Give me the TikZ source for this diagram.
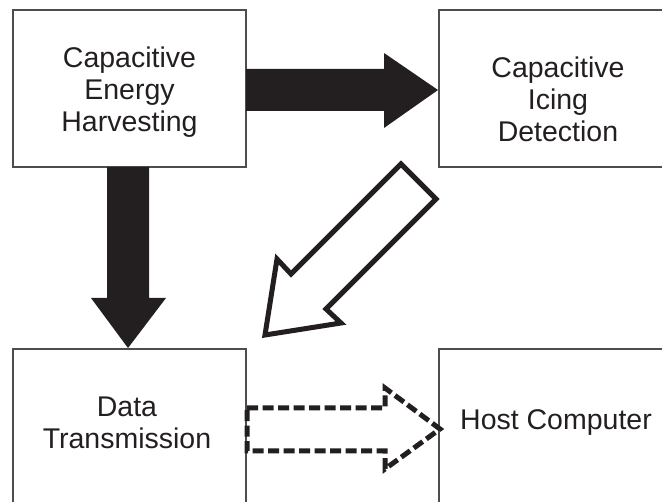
\documentclass[tikz,border=0pt]{standalone}
\usepackage{fontspec}
\setmainfont{Liberation Sans}
\usepackage{xcolor}
\usepackage{tikz}
\usetikzlibrary{positioning}
\definecolor{tinta}{HTML}{231F20}
\definecolor{borde}{HTML}{4D4D4D}
\tikzset{
  caja/.style={draw=borde, line width=1.1pt, rectangle, inner sep=0pt},
  texto/.style={align=center, inner sep=0pt, text=tinta,
    font=\fontsize{28.5}{32}\selectfont},
  flechallena/.style={fill=tinta, draw=none},
  flechahueca/.style={draw=tinta, line width=5pt, line join=miter, fill=white},
  flechapunteada/.style={draw=tinta, line width=5pt, line join=miter,
    dash pattern=on 11pt off 4.5pt}
}
\begin{document}
\begin{tikzpicture}[x=1pt, y=-1pt]
        % Marco de la figura
        \useasboundingbox (0,0) rectangle (662,502);
        \clip (0,0) rectangle (662,502);
        % Cajas
        \node[caja, minimum width=233pt, minimum height=157pt] (harvest) at (129.5,88.5) {};
        \node[caja, minimum width=238pt, minimum height=157pt] (icing) at (558,88.5) {};
        \node[caja, minimum width=233pt, minimum height=157pt] (trans) at (129.5,427.5) {};
        \node[caja, minimum width=238pt, minimum height=157pt] (host) at (558,427.5) {};
        % Textos
        \node[texto] (harvestlbl) at (129.5,92) {Capacitive\\Energy\\Harvesting};
        \node[texto] (icinglbl) at (558,99) {Capacitive\\Icing\\Detection};
        \node[texto] (translbl) at (127,423) {Data\\Transmission};
        \node[texto] (hostlbl) at (556,423) {Host Computer};
        % Flecha horizontal (rellena)
        \fill[flechallena] (246,69) -- (384,69) -- (384,53) -- (438,90)
          -- (384,128) -- (384,111) -- (246,111) -- cycle;
        % Flecha vertical (rellena)
        \fill[flechallena] (107,167) -- (107,298) -- (91,298) -- (128,348)
          -- (166,298) -- (149,298) -- (149,167) -- cycle;
        % Flecha diagonal (hueca)
        \draw[flechahueca] (401,164) -- (291,274) -- (277,259) -- (265,335)
          -- (341,323) -- (326,309) -- (436,199) -- cycle;
        % Flecha punteada
        \draw[flechapunteada] (247,408) -- (385,408) -- (385,388) -- (440,429)
          -- (385,469) -- (385,451) -- (247,451) -- cycle;
    \end{tikzpicture}
\end{document}
